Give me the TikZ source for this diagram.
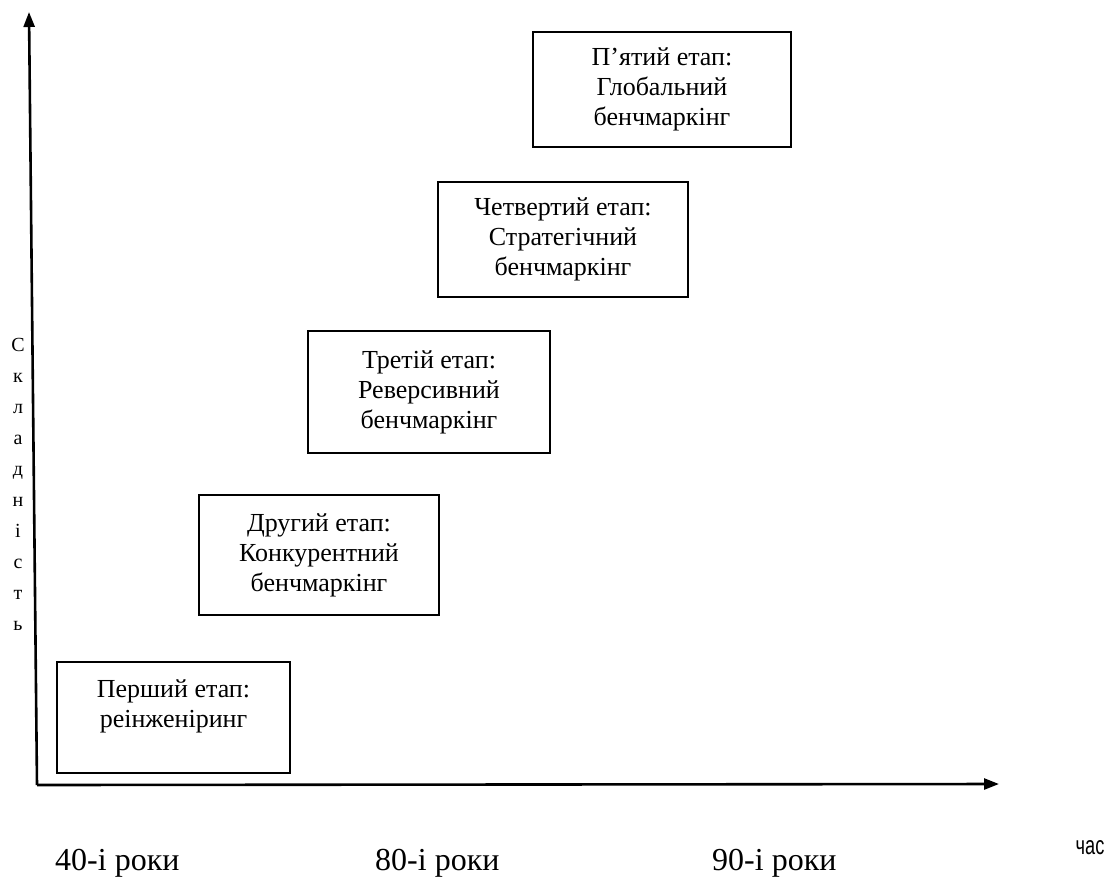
\documentclass[tikz,border=0pt]{standalone}
\usepackage{fontspec}
\setmainfont{Liberation Serif}
\setsansfont{Liberation Sans}
\usetikzlibrary{arrows.meta}
\begin{document}
\begin{tikzpicture}[x=1pt,y=-1pt,
  stagebox/.style={draw, line width=2.6pt, inner sep=0pt},
  stagetext/.style={align=center, inner sep=0pt, font=\fontsize{26}{30}\selectfont},
  yearlab/.style={anchor=base west, inner sep=0pt, font=\fontsize{32}{36}\selectfont},
  axisline/.style={line width=2.6pt, -{Triangle[length=15pt,width=11pt]}}]
\useasboundingbox (0,0) rectangle (1110,879);
\fill[white] (0,0) rectangle (1110,879);

% axes
\coordinate (O) at (37,785);
\coordinate (ytip) at (29,12);
\coordinate (xtip) at (999,784);
\draw[axisline] (O) -- (ytip);
\draw[axisline] (O) -- (xtip);

% stage frames
\node[stagebox, minimum width=233pt, minimum height=111pt] (s1) at (173.5,717.5) {};
\node[stagebox, minimum width=240pt, minimum height=120pt] (s2) at (319,555) {};
\node[stagebox, minimum width=242pt, minimum height=122pt] (s3) at (429,392) {};
\node[stagebox, minimum width=250pt, minimum height=115pt] (s4) at (563,239.5) {};
\node[stagebox, minimum width=258pt, minimum height=115pt] (s5) at (662,89.5) {};

% stage captions
\node[stagetext] (t1) at (173.5,706) {Перший етап:\\реінженіринг};
\node[stagetext] (t2) at (s2.center) {Другий етап:\\Конкурентний\\бенчмаркінг};
\node[stagetext] (t3) at (s3.center) {Третій етап:\\Реверсивний\\бенчмаркінг};
\node[stagetext] (t4) at (s4.center) {Четвертий етап:\\Стратегічний\\бенчмаркінг};
\node[stagetext] (t5) at (s5.center) {П’ятий етап:\\Глобальний\\бенчмаркінг};

% vertical axis caption
\node[align=center, inner sep=0pt, font=\fontsize{20}{31}\selectfont] (ylab) at (18,484)
  {С\\к\\л\\а\\д\\н\\і\\с\\т\\ь};

% time labels
\node[yearlab] (y40) at (55,870) {40-і роки};
\node[yearlab] (y80) at (375,870) {80-і роки};
\node[yearlab] (y90) at (712,870) {90-і роки};
\node[inner sep=0pt, xscale=0.7, font=\sffamily\fontsize{26}{28}\selectfont] (xlab) at (1090,848) {час};
\end{tikzpicture}
\end{document}
